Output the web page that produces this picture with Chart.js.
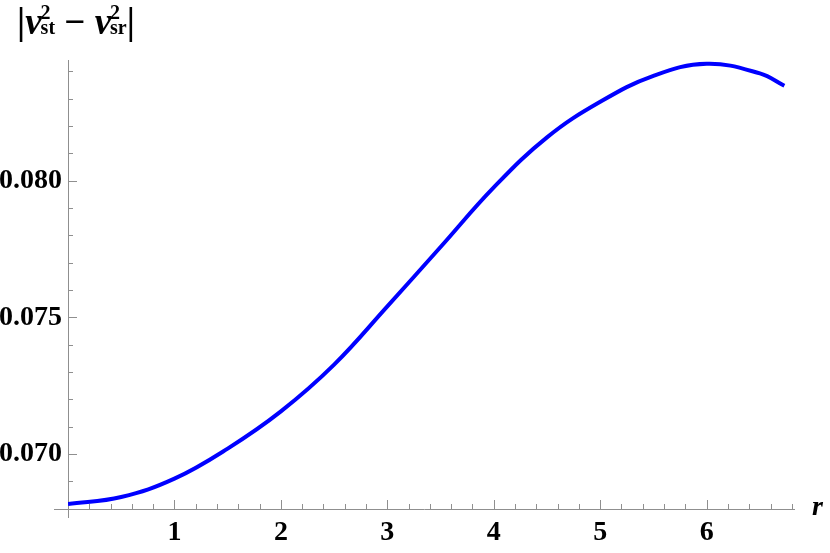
<!DOCTYPE html>
<html>
<head>
<meta charset="utf-8">
<script src="https://cdn.jsdelivr.net/npm/chart.js@4"></script>
<style>
    body { margin: 0; background: #fff; }
    #wrap { position: relative; width: 830px; height: 553px; }
    #yLabel {
        position: absolute; left: 17px; top: 0px;
        font-family: "Liberation Serif", serif; font-weight: bold;
        font-size: 37px; line-height: 44px; white-space: nowrap; color: #000;
    }
    #yLabel i { font-style: italic; }
    .ss {
        display: inline-block; font-size: 20px; line-height: 15px;
        margin-left: -1px; text-align: left;
    }
    .ss span { display: block; }
    #xLabel {
        position: absolute; left: 812px; top: 490px;
        font-family: "Liberation Serif", serif; font-weight: bold; font-style: italic;
        font-size: 28px; color: #000;
    }
</style>
</head>
<body>
<div id="wrap">
    <canvas id="myChart" width="830" height="553"></canvas>
    <div id="yLabel">|<i>v</i><span class="ss"><span>2</span><span>st</span></span> − <i>v</i><span class="ss"><span>2</span><span>sr</span></span>|</div>
    <div id="xLabel">r</div>
</div>
<script>
// #region data
const rValues = [0, 0.5, 1, 1.5, 2, 2.5, 3, 3.5, 4, 4.5, 5, 5.5, 6, 6.5, 6.73];
const dvValues = [0.06817, 0.06843, 0.06910, 0.07020, 0.07156, 0.07327, 0.07540, 0.07757,
    0.07975, 0.08158, 0.08288, 0.08383, 0.08427, 0.08392, 0.08347];
const xTickLabels = [1, 2, 3, 4, 5, 6];
const yTickLabels = [0.070, 0.075, 0.080];
// #endregion data

const
    graph = document.querySelector('#myChart'),
    axisColor = '#8f8f8f',
    tickFont = { family: 'Liberation Serif', weight: 'bold', size: 28 };

function isLabelled(list, v) {
    return list.some(t => Math.abs(t - v) < 1e-9);
}

// mathematica-like axes: lines through the origin, ticks pointing inward
const axesPlugin = {
    id: 'axesPlugin',
    beforeDatasetsDraw(chart) {
        const ctx = chart.ctx, area = chart.chartArea;
        const xs = chart.scales.x, ys = chart.scales.y;
        ctx.save();
        ctx.strokeStyle = axisColor;
        ctx.lineWidth = 1;
        ctx.beginPath();
        ctx.moveTo(area.left - 14, area.bottom + 0.5);
        ctx.lineTo(area.right, area.bottom + 0.5);
        ctx.moveTo(area.left + 0.5, area.top);
        ctx.lineTo(area.left + 0.5, area.bottom + 9);
        ctx.stroke();

        ctx.beginPath();
        xs.ticks.forEach(t => {
            const px = Math.round(xs.getPixelForValue(t.value)) + 0.5;
            if (px - area.left < 3) return;
            const len = isLabelled(xTickLabels, t.value) ? 9 : 5;
            ctx.moveTo(px, area.bottom);
            ctx.lineTo(px, area.bottom - len);
        });
        ys.ticks.forEach(t => {
            const py = Math.round(ys.getPixelForValue(t.value)) + 0.5;
            if (area.bottom - py < 3) return;
            const len = isLabelled(yTickLabels, t.value) ? 9 : 5;
            ctx.moveTo(area.left, py);
            ctx.lineTo(area.left + len, py);
        });
        ctx.stroke();
        ctx.restore();
    }
};

function graphrender() {
    const ctx = graph.getContext('2d');

    new Chart(ctx, {
        type: 'line',
        data: {
            datasets: [{
                data: rValues.map((r, i) => ({ x: r, y: dvValues[i] })),
                borderColor: '#0000ff',
                borderWidth: 4,
                pointRadius: 0,
                fill: false,
                tension: 0.4
            }]
        },
        options: {
            responsive: false,
            animation: false,
            layout: { padding: { left: 0, top: 60, right: 35, bottom: 0 } },
            plugins: {
                legend: { display: false },
                tooltip: { enabled: false }
            },
            scales: {
                x: {
                    type: 'linear',
                    min: 0,
                    max: 6.83,
                    grid: { display: false, drawTicks: false },
                    border: { display: false },
                    afterFit: (scale) => { scale.height = 44; },
                    ticks: {
                        stepSize: 0.2,
                        includeBounds: false,
                        autoSkip: false,
                        maxRotation: 0,
                        padding: 7,
                        color: '#000',
                        font: tickFont,
                        callback: (v) => isLabelled(xTickLabels, v) ? String(Math.round(v)) : ''
                    }
                },
                y: {
                    min: 0.06799,
                    max: 0.08441,
                    grid: { display: false, drawTicks: false },
                    border: { display: false },
                    afterFit: (scale) => { scale.width = 68; },
                    ticks: {
                        stepSize: 0.001,
                        includeBounds: false,
                        autoSkip: false,
                        padding: 6,
                        color: '#000',
                        font: tickFont,
                        callback: (v) => isLabelled(yTickLabels, v) ? v.toFixed(3) : ''
                    }
                }
            }
        },
        plugins: [axesPlugin]
    });
}

graphrender();
</script>
</body>
</html>
